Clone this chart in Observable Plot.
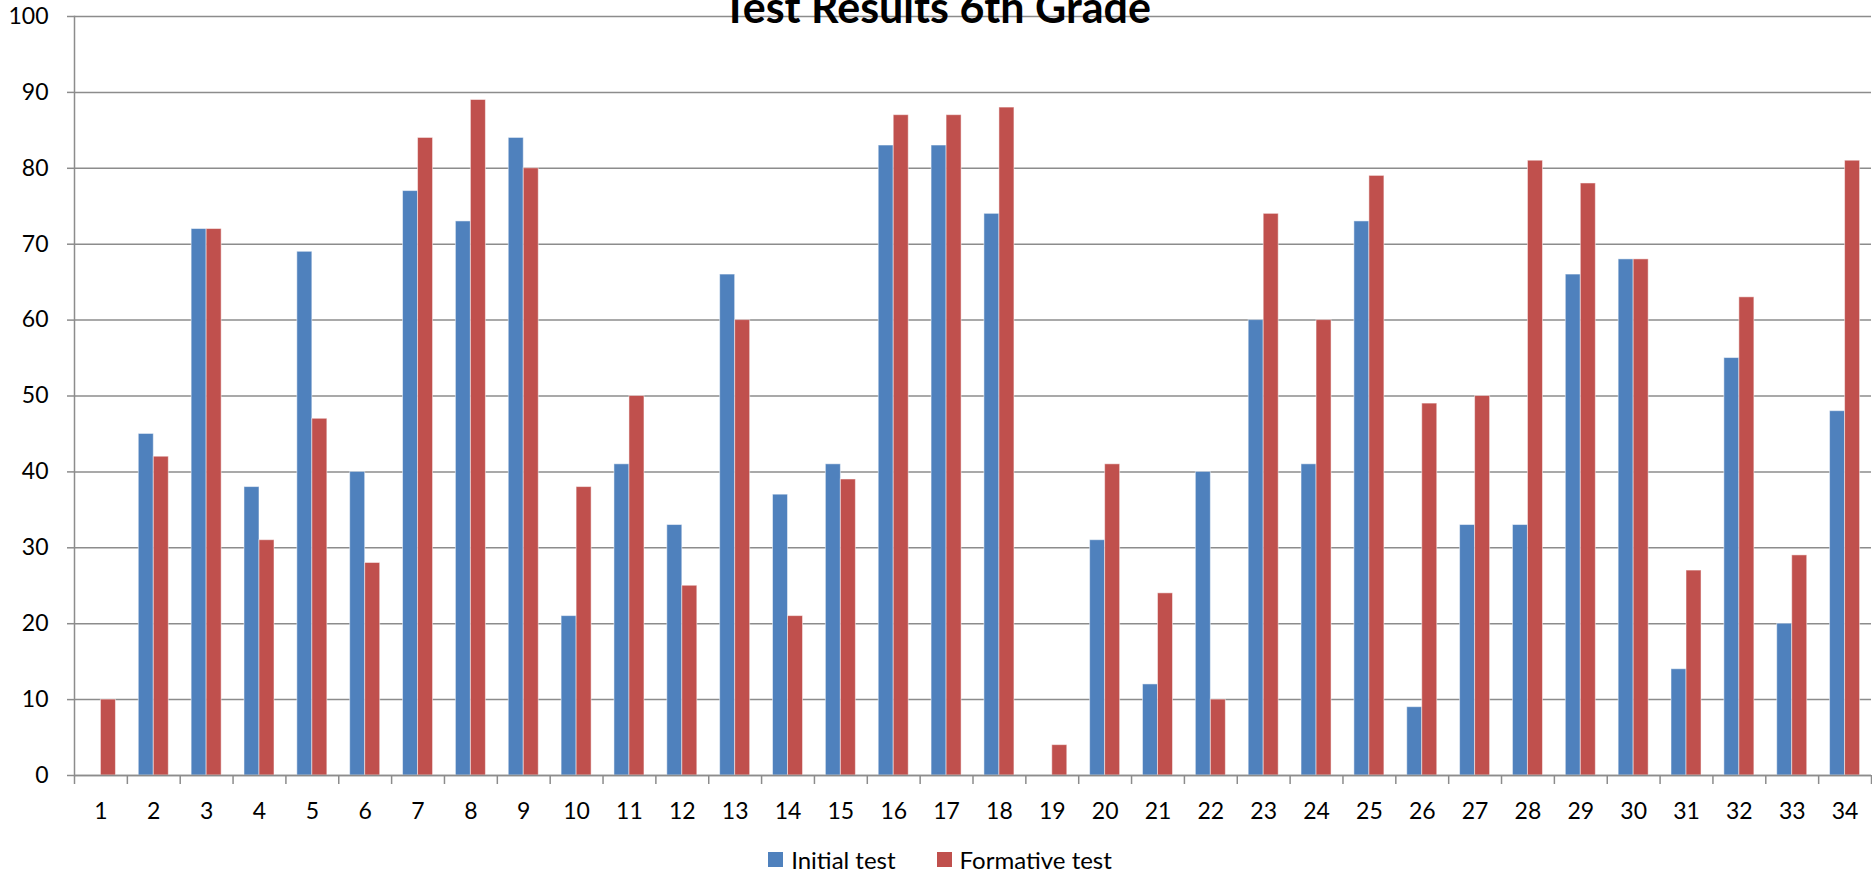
<!DOCTYPE html>
<html>
<head>
<meta charset="utf-8">
<script src="https://cdn.jsdelivr.net/npm/d3@7"></script>
<script src="https://cdn.jsdelivr.net/npm/@observablehq/plot@0.6"></script>
<style>
  html, body { margin: 0; padding: 0; background: #fff; overflow: hidden; }
  body { font-family: Lato, "Open Sans", sans-serif; }
  #legend { display: flex; justify-content: center; align-items: center; gap: 41px;
            height: 39px; font-size: 24px; color: #000; padding-left: 8px; }
  #legend .item { display: flex; align-items: center; gap: 8px; }
  #legend .sw { width: 15px; height: 15px; display: inline-block; }
</style>
</head>
<body>
<div id="chart"></div>
<div id="legend"></div>
<script>
const title = "Test Results 6th Grade";
const students = [1,2,3,4,5,6,7,8,9,10,11,12,13,14,15,16,17,18,19,20,21,22,23,24,25,26,27,28,29,30,31,32,33,34];
const seriesNames = ["Initial test", "Formative test"];
const initialTest   = [0,45,72,38,69,40,77,73,84,21,41,33,66,37,41,83,83,74,0,31,12,40,60,41,73,9,33,33,66,68,14,55,20,48];
const formativeTest = [10,42,72,31,47,28,84,89,80,38,50,25,60,21,39,87,87,88,4,41,24,10,74,60,79,49,50,81,78,68,27,63,29,81];
const yTicks = [0,10,20,30,40,50,60,70,80,90,100];
const seriesColors = ["#4F81BD", "#C0504D"];

const rows = [];
students.forEach((s, i) => {
  rows.push({student: s, series: seriesNames[0], value: initialTest[i]});
  rows.push({student: s, series: seriesNames[1], value: formativeTest[i]});
});

const W = 1872, H = 840, ml = 74, mr = 1, mt = 16, mb = 65;
const bw = (W - ml - mr) / students.length;
const barFrac = 0.284;
const gray = "#8c8c8c";

const chart = Plot.plot({
  width: W, height: H,
  marginLeft: ml, marginRight: mr, marginTop: mt, marginBottom: mb,
  style: {fontFamily: "Lato, 'Open Sans', sans-serif", background: "#fff", color: "#000"},
  x: {type: "band", domain: students, padding: 0, round: false, axis: null},
  y: {domain: [0, 100], axis: null},
  color: {domain: seriesNames, range: seriesColors},
  marks: [
    Plot.gridY(yTicks, {stroke: gray, strokeOpacity: 1, strokeWidth: 1.5}),
    Plot.axisY(yTicks, {tickSize: 7, tickPadding: 19, fontSize: 23, stroke: gray, strokeWidth: 1.5, fill: "#000", tickFormat: d => d, label: null}),
    Plot.frame({anchor: "left", stroke: gray, strokeWidth: 1.5}),
    Plot.ruleX(students, {x: d => d, y1: 0, y2: 0, dx: -bw / 2, insetBottom: -9, stroke: gray, strokeWidth: 1.5}),
    Plot.ruleX(students.slice(-1), {x: d => d, y1: 0, y2: 0, dx: bw / 2, insetBottom: -9, stroke: gray, strokeWidth: 1.5}),
    Plot.barY(rows.filter(d => d.series === seriesNames[0] && d.value > 0), {
      x: "student", y: "value", fill: "series",
      insetLeft: bw * (0.5 - barFrac), insetRight: bw * 0.5,
      stroke: "#fff", strokeOpacity: 0.5, strokeWidth: 1
    }),
    Plot.barY(rows.filter(d => d.series === seriesNames[1] && d.value > 0), {
      x: "student", y: "value", fill: "series",
      insetLeft: bw * 0.5, insetRight: bw * (0.5 - barFrac),
      stroke: "#fff", strokeOpacity: 0.5, strokeWidth: 1
    }),
    Plot.ruleY([0], {stroke: gray, strokeWidth: 1.5}),
    Plot.axisX({tickSize: 0, tickPadding: 27, fontSize: 23, fill: "#000", label: null}),
    Plot.text([title], {frameAnchor: "top", lineAnchor: "bottom", dy: 6, dx: -(ml - mr) / 2,
      fontSize: 43, fontWeight: "bold", fill: "#000"})
  ]
});
document.getElementById("chart").appendChild(chart);

const legend = document.getElementById("legend");
seriesNames.forEach((name, i) => {
  const item = document.createElement("div");
  item.className = "item";
  const sw = document.createElement("span");
  sw.className = "sw";
  sw.style.background = seriesColors[i];
  const label = document.createElement("span");
  label.textContent = name;
  item.appendChild(sw);
  item.appendChild(label);
  legend.appendChild(item);
});
</script>
</body>
</html>
